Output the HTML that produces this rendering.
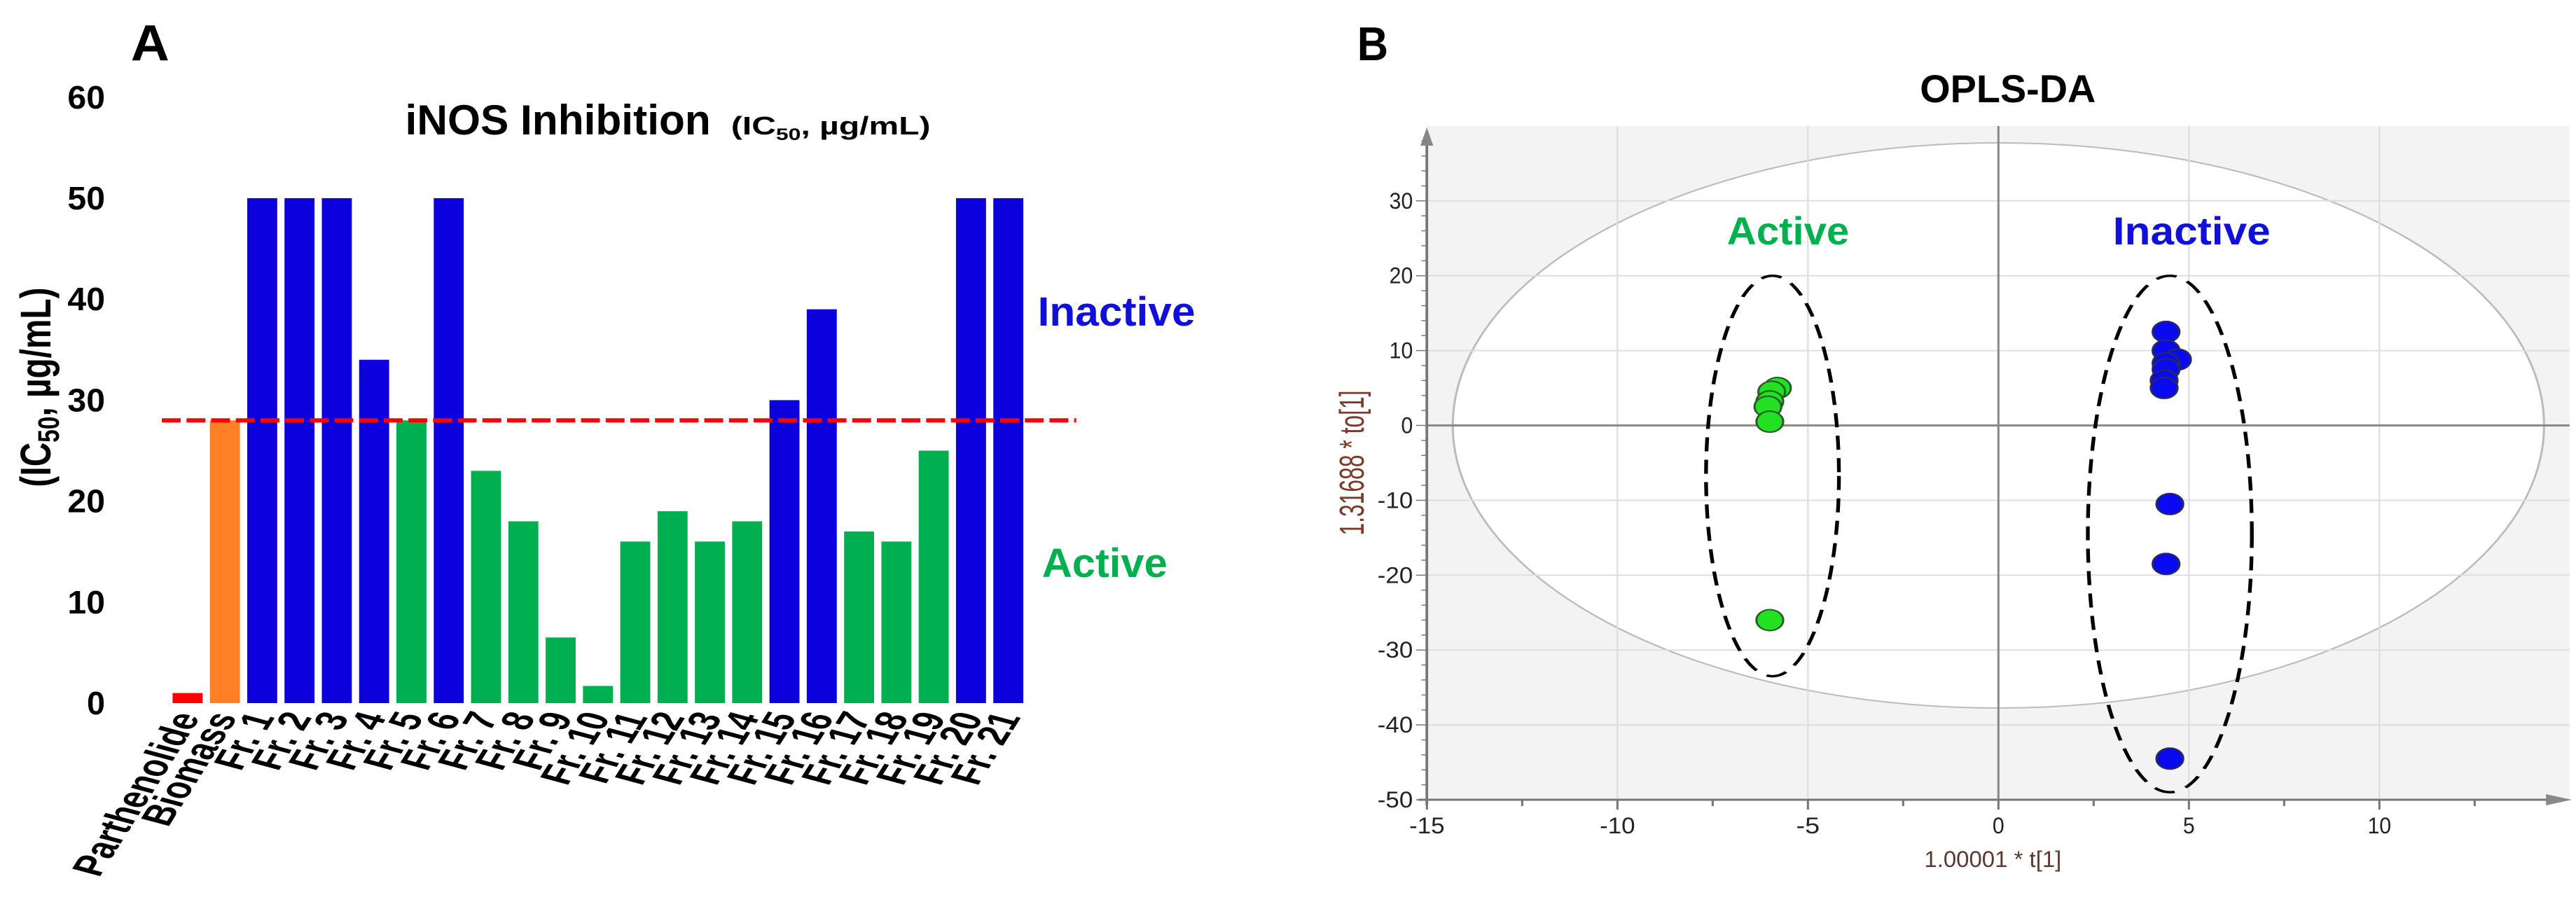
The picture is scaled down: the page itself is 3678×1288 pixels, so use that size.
<!DOCTYPE html>
<html><head><meta charset="utf-8"><style>
html,body{margin:0;padding:0;background:#fff;}
svg{display:block;}
text{font-family:"Liberation Sans",sans-serif;}
</style></head><body>
<svg id="fig" width="3678" height="1288" viewBox="0 0 2403 1288" preserveAspectRatio="none" xmlns="http://www.w3.org/2000/svg">
<g id="panelA">
<text x="122" y="86" font-size="72" font-weight="bold" textLength="36" lengthAdjust="spacingAndGlyphs">A</text>
<text x="378" y="192" font-size="60" font-weight="bold" textLength="285" lengthAdjust="spacingAndGlyphs">iNOS Inhibition</text>
<text x="682" y="192" font-size="36" font-weight="bold" textLength="186" lengthAdjust="spacingAndGlyphs">(IC<tspan font-size="24" dy="8">50</tspan><tspan dy="-8">, µg/mL)</tspan></text>
<text transform="translate(47,553) rotate(-90)" text-anchor="middle" font-size="40" font-weight="bold" textLength="285" lengthAdjust="spacingAndGlyphs">(IC<tspan font-size="28" dy="8">50</tspan><tspan dy="-8">, µg/mL)</tspan></text>
<text x="968" y="465" font-size="58" font-weight="bold" fill="#1010d8" textLength="147" lengthAdjust="spacingAndGlyphs">Inactive</text>
<text x="972" y="824" font-size="58" font-weight="bold" fill="#00b050" textLength="117" lengthAdjust="spacingAndGlyphs">Active</text>
</g>
<g id="panelB">
<text x="1266" y="86" font-size="68" font-weight="bold" textLength="29" lengthAdjust="spacingAndGlyphs">B</text>
<text x="1873" y="146" text-anchor="middle" font-size="56" font-weight="bold" textLength="164" lengthAdjust="spacingAndGlyphs">OPLS-DA</text>
</g>
</svg>
<script>
// Panel A data
const barCategories = ["Parthenolide","Biomass","Fr. 1","Fr. 2","Fr. 3","Fr. 4","Fr. 5","Fr. 6","Fr. 7","Fr. 8","Fr. 9","Fr. 10","Fr. 11","Fr. 12","Fr. 13","Fr. 14","Fr. 15","Fr. 16","Fr. 17","Fr. 18","Fr. 19","Fr. 20","Fr. 21"];
const barValues = [1,28,50,50,50,34,28,50,23,18,6.5,1.7,16,19,16,18,30,39,17,16,25,50,50];
const barGroups = ["ref","biomass","inactive","inactive","inactive","inactive","active","inactive","active","active","active","active","active","active","active","active","inactive","inactive","active","active","active","inactive","inactive"];
const yTicksA = [0,10,20,30,40,50,60];
const thresholdA = 28;
// Panel B data
const activeX = [-5.8,-5.95,-6.0,-6.05,-6.0,-6.0];
const activeY = [5,4.5,3.2,2.5,0.5,-26];
const inactiveX = [4.4,4.4,4.7,4.4,4.4,4.35,4.35,4.5,4.4,4.5];
const inactiveY = [12.5,10,8.8,8.3,7.5,6,5,-10.5,-18.5,-44.5];
const xTicksB = [-15,-10,-5,0,5,10];
const yTicksB = [-50,-40,-30,-20,-10,0,10,20,30];

const NS = "http://www.w3.org/2000/svg";
function mk(parent, tag, attrs, txt){
  const e = document.createElementNS(NS, tag);
  for (const k in attrs) e.setAttribute(k, attrs[k]);
  if (txt !== undefined) e.textContent = txt;
  parent.appendChild(e);
  return e;
}
const gA = document.getElementById("panelA");
const gB = document.getElementById("panelB");

// Panel A scales
const yA = v => 1004 - v * 14.42;
const step = 34.8, bw = 28, x0 = 161;
const xA = i => x0 + i * step;
const colors = {ref:"#ff0000", biomass:"#ff7f27", inactive:"#0c00dc", active:"#00b050"};

yTicksA.forEach(t => {
  const e = mk(gA, "text", {x:98, y:yA(t)+16, "text-anchor":"end", "font-size":46, "font-weight":"bold", textLength: t===0?17:35, lengthAdjust:"spacingAndGlyphs"}, String(t));
  
  
});
barValues.forEach((v,i) => {
  const r = mk(gA, "rect", {x:xA(i), y:yA(v), width:bw, height:yA(0)-yA(v), fill:colors[barGroups[i]]});
  
  
  const cx = xA(i) + bw/2;
  const lbl = mk(gA, "text", {transform:`translate(${cx+12},${1024}) rotate(-67.6)`, "text-anchor":"end", "font-size":41, "font-weight":"bold"}, barCategories[i]);
  
  
});
const th = mk(gA, "line", {x1:151, x2:1004, y1:yA(thresholdA), y2:yA(thresholdA), stroke:"#ff0000", "stroke-width":6, "stroke-dasharray":"17.6 5.4"});



// Panel B scales
const xB = v => 1864.2 + v * 35.54;
const yB = v => 607.5 - v * 10.69;
const L = 1331, R = 2397, T = 180, Bt = 1142;
const bg = mk(gB, "rect", {x:L, y:T, width:R-L, height:Bt-T, fill:"#f3f3f3"});


const hot = mk(gB, "ellipse", {cx:xB(0), cy:yB(0), rx:509, ry:403.5, fill:"#fff", stroke:"#bbb", "stroke-width":2});


for (let v=-10; v<=10; v+=5){
  const g = mk(gB, "line", {x1:xB(v), x2:xB(v), y1:T, y2:Bt, stroke:"#dedede", "stroke-width":1.5});
  
  
}
for (let v=-40; v<=30; v+=10){
  const g = mk(gB, "line", {x1:L, x2:R, y1:yB(v), y2:yB(v), stroke:"#dedede", "stroke-width":2});
  
  
}
const c1 = mk(gB, "line", {x1:xB(0), x2:xB(0), y1:T, y2:Bt, stroke:"#8a8a8a", "stroke-width":2});


const c2 = mk(gB, "line", {x1:L, x2:R, y1:yB(0), y2:yB(0), stroke:"#8a8a8a", "stroke-width":3});


const ax = mk(gB, "line", {x1:L-8, x2:R-12, y1:Bt, y2:Bt, stroke:"#777", "stroke-width":3});


const ay = mk(gB, "line", {x1:L, x2:L, y1:Bt+8, y2:T+14, stroke:"#777", "stroke-width":2.5});


const arX = mk(gB, "path", {d:`M${R+2},${Bt} L${R-22},${Bt-8} L${R-22},${Bt+8} Z`, fill:"#888"});


const arY = mk(gB, "path", {d:`M${L},${T+2} L${L-6},${T+28} L${L+6},${T+28} Z`, fill:"#888"});


for (let v=-15; v<=12.5; v+=2.5){
  const tk = mk(gB, "line", {x1:xB(v), x2:xB(v), y1:Bt, y2:Bt+(v%5===0?14:9), stroke:"#777", "stroke-width":2});
  
  
}
for (let v=-50; v<=38; v+=2){
  const tk = mk(gB, "line", {x1:L-(v%10===0?10:5), x2:L, y1:yB(v), y2:yB(v), stroke:"#777", "stroke-width":1.5});
  
  
}
xTicksB.forEach(t => {
  const e = mk(gB, "text", {x:xB(t), y:1190, "text-anchor":"middle", "font-size":32, fill:"#222", textLength: String(t).length*11, lengthAdjust:"spacingAndGlyphs"}, String(t));
  
  
});
yTicksB.forEach(t => {
  const e = mk(gB, "text", {x:1318, y:yB(t)+11, "text-anchor":"end", "font-size":32, fill:"#222", textLength: String(t).length*11, lengthAdjust:"spacingAndGlyphs"}, String(t));
  
  
});
const xt = mk(gB, "text", {x:1859, y:1238, "text-anchor":"middle", "font-size":32, fill:"#5a3a30", textLength:128, lengthAdjust:"spacingAndGlyphs"}, "1.00001 * t[1]");


const yt = mk(gB, "text", {transform:"translate(1272,661) rotate(-90)", "text-anchor":"middle", "font-size":32, fill:"#7a3a2a", textLength:207, lengthAdjust:"spacingAndGlyphs"}, "1.31688 * to[1]");


const e1 = mk(gB, "ellipse", {cx:xB(-5.93), cy:yB(-6.75), rx:62, ry:26.75*10.69, fill:"none", stroke:"#000", "stroke-width":3.5, "stroke-dasharray":"20 12"});


const e2 = mk(gB, "ellipse", {cx:xB(4.5), cy:yB(-14.5), rx:76.5, ry:34.5*10.69, fill:"none", stroke:"#000", "stroke-width":3.5, "stroke-dasharray":"20 12"});


activeX.forEach((v,i) => {
  const p = mk(gB, "ellipse", {cx:xB(v), cy:yB(activeY[i]), rx:12.5, ry:15, fill:"#22e022", stroke:"#2a5a2a", "stroke-width":2});
  
  
});
inactiveX.forEach((v,i) => {
  const p = mk(gB, "ellipse", {cx:xB(v), cy:yB(inactiveY[i]), rx:12.5, ry:15, fill:"#0a0af0", stroke:"#2a2a5a", "stroke-width":2});
  
  
});
const la = mk(gB, "text", {x:1611, y:349, "font-size":56, "font-weight":"bold", fill:"#00b050", textLength:114, lengthAdjust:"spacingAndGlyphs"}, "Active");


const li = mk(gB, "text", {x:1971, y:349, "font-size":56, "font-weight":"bold", fill:"#1010d8", textLength:147, lengthAdjust:"spacingAndGlyphs"}, "Inactive");


</script>
</body></html>
